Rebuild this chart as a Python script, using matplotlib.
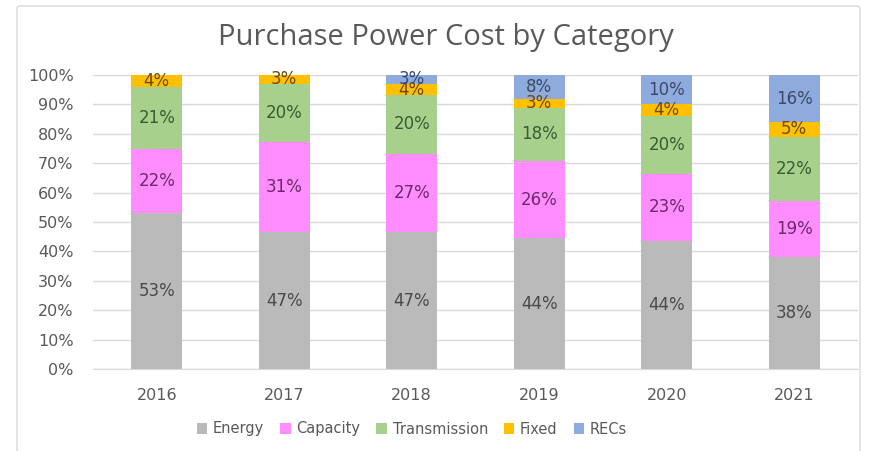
import matplotlib
matplotlib.use("Agg")
import matplotlib.pyplot as plt
import numpy as np
from matplotlib.patches import FancyBboxPatch

years = ["2016", "2017", "2018", "2019", "2020", "2021"]
energy = [53, 47, 47, 44, 44, 38]
capacity = [22, 31, 27, 26, 23, 19]
transmission = [21, 20, 20, 18, 20, 22]
fixed = [4, 3, 4, 3, 4, 5]
recs = [0, 0, 3, 8, 10, 16]

series = [
    ("Energy", energy, "#BABABA", "#4a4a4a"),
    ("Capacity", capacity, "#FF8DFF", "#6a2a6a"),
    ("Transmission", transmission, "#A8D08D", "#3a5a30"),
    ("Fixed", fixed, "#FFC000", "#6a4a10"),
    ("RECs", recs, "#8FAADC", "#3a4a6a"),
]

fig = plt.figure(figsize=(8.76, 4.51), dpi=100)
ax = fig.add_axes([93/876, 1 - 369/451, (858-93)/876, (369-75)/451])

# outer frame
frame = FancyBboxPatch((17/876, -0.02), (860-17)/876, (1 - 6/451) + 0.02,
                       boxstyle="round,pad=0,rounding_size=0.005",
                       transform=fig.transFigure, fill=False, edgecolor="#d9d9d9", linewidth=1.0)
fig.patches.append(frame)

x = np.arange(len(years))
totals = np.sum([np.array(s[1], dtype=float) for s in series], axis=0)
bottom = np.zeros(len(years))
for name, vals, col, tcol in series:
    v = np.array(vals, dtype=float) / totals
    ax.bar(x, v, 0.4, bottom=bottom, color=col, label=name, zorder=3)
    for i, val in enumerate(vals):
        if val > 0:
            ax.text(x[i], bottom[i] + v[i] / 2, f"{val}%", ha="center", va="center",
                    fontsize=12, color=tcol, family="DejaVu Sans", zorder=4)
    bottom += v

ax.set_xlim(-0.5, len(years) - 0.5)
ax.set_ylim(0, 1)
ax.set_yticks(np.linspace(0, 1, 11))
ax.set_yticklabels([f"{int(t)}%" for t in np.linspace(0, 100, 11)])
ax.set_xticks(x)
ax.set_xticklabels(years)
ax.grid(axis="y", color="#d9d9d9", linewidth=1, zorder=0)
for s in ax.spines.values():
    s.set_visible(False)
ax.spines["bottom"].set_visible(True)
ax.spines["bottom"].set_color("#d9d9d9")
ax.tick_params(axis="both", length=0, labelsize=11.5, colors="#595959")
ax.tick_params(axis="x", pad=14)
ax.tick_params(axis="y", pad=14)

fig.text(446/876, 1 - 38/451, "Purchase Power Cost by Category", ha="center", va="center",
         fontsize=21, color="#595959", family="Open Sans")

handles, labels = ax.get_legend_handles_labels()
fig.legend(handles, labels, loc="center", bbox_to_anchor=(412/876, 1 - 429/451), ncol=5,
           frameon=False, fontsize=10.5, labelcolor="#595959", handlelength=0.7, handleheight=0.7,
           handletextpad=0.4, columnspacing=1.1)

fig.savefig("out.png", dpi=100)
